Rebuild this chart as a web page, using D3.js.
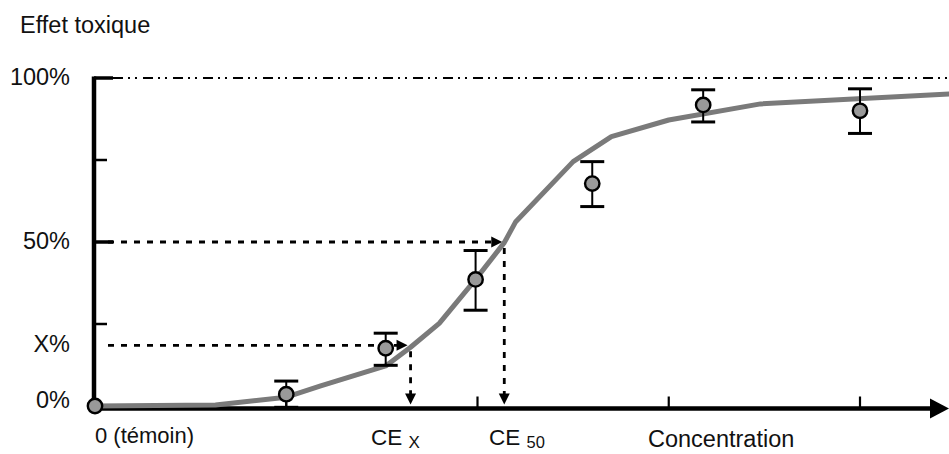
<!DOCTYPE html>
<html>
<head>
<meta charset="utf-8">
<script src="https://cdn.jsdelivr.net/npm/d3@7/dist/d3.min.js"></script>
<style>
  html, body { margin: 0; padding: 0; background: #fff; }
  svg { display: block; }
  text { font-family: "Liberation Sans", Arial, Helvetica, sans-serif; fill: #111; }
</style>
</head>
<body>
<svg id="chart" width="949" height="454"></svg>
<script>
// ---- data ----
const concentrations = [0, 1.0, 1.52, 1.99, 2.60, 3.18, 4.0];
const effects        = [0, 3.6, 17.6, 38.6, 67.8, 91.8, 90.0];
const errHigh        = [0, 4.0, 4.6, 8.8, 6.7, 4.6, 6.7];
const errLow         = [0, 4.0, 5.2, 9.4, 7.0, 5.2, 6.9];

const curveX = [0, 0.63, 1.0, 1.18, 1.52, 1.65, 1.80, 1.99, 2.14, 2.20, 2.50, 2.70, 3.00, 3.48, 4.47];
const curveY = [0, 0.3, 2.7, 6.1, 12.2, 17.9, 25.2, 38.6, 49.8, 56.2, 74.5, 82.1, 87.2, 92.1, 95.1];

const xTicks = [1, 2, 3, 4];
const yMinorTicks = [25, 75];
const yMajorTicks = [50, 100];
const yLabels = [
  {v: 100, t: "100%"},
  {v: 50,  t: "50%"},
  {v: 18.5, t: "X%"},
  {v: 0,   t: "0%"}
];
const xEffect = 18.5;   // X%
const ceX = 1.65;       // CE x
const ce50 = 2.14;      // CE 50

// ---- scales ----
const svg = d3.select("#chart");
const x = d3.scaleLinear().domain([0, 4]).range([95, 860]);
const y = d3.scaleLinear().domain([0, 100]).range([406, 78]);
const axisY = 408.5;
const axisX = 94;

// ---- y axis ----
svg.append("line").attr("x1", axisX).attr("x2", axisX).attr("y1", y(100) - 1.5).attr("y2", axisY + 2)
  .attr("stroke", "#000").attr("stroke-width", 4.5);
svg.selectAll(".ymaj").data(yMajorTicks).enter().append("line")
  .attr("x1", axisX).attr("x2", axisX + 19).attr("y1", d => y(d)).attr("y2", d => y(d))
  .attr("stroke", "#000").attr("stroke-width", 3.5);
svg.selectAll(".ymin").data(yMinorTicks).enter().append("line")
  .attr("x1", axisX).attr("x2", axisX + 13).attr("y1", d => y(d)).attr("y2", d => y(d))
  .attr("stroke", "#000").attr("stroke-width", 2.5);

// 100% dash-dot-dot line
svg.append("line").attr("x1", axisX + 19).attr("x2", 949).attr("y1", y(100)).attr("y2", y(100))
  .attr("stroke", "#000").attr("stroke-width", 2)
  .attr("stroke-dasharray", "10,5,2,5,2,6");

// ---- x axis ----
svg.append("line").attr("x1", axisX - 2).attr("x2", 935).attr("y1", axisY).attr("y2", axisY)
  .attr("stroke", "#000").attr("stroke-width", 4.5);
svg.append("path").attr("d", `M930,${axisY - 10} L949,${axisY} L930,${axisY + 10} Z`).attr("fill", "#000");
svg.selectAll(".xt").data(xTicks).enter().append("line")
  .attr("x1", d => x(d)).attr("x2", d => x(d)).attr("y1", axisY).attr("y2", axisY - 12)
  .attr("stroke", "#000").attr("stroke-width", 2.2);

// ---- dotted guide lines with arrowheads ----
function hArrow(v, xEnd) {
  const yy = y(v);
  svg.append("line").attr("x1", axisX + 14).attr("x2", xEnd - 10).attr("y1", yy).attr("y2", yy)
    .attr("stroke", "#000").attr("stroke-width", 2.8).attr("stroke-dasharray", "6,7");
  svg.append("path").attr("d", `M${xEnd - 11},${yy - 5.5} L${xEnd},${yy} L${xEnd - 11},${yy + 5.5} Z`).attr("fill", "#000");
}
function vArrow(c, v) {
  const xx = x(c);
  svg.append("line").attr("x1", xx).attr("x2", xx).attr("y1", y(v) + 6).attr("y2", axisY - 14)
    .attr("stroke", "#000").attr("stroke-width", 2.8).attr("stroke-dasharray", "6,7");
  svg.append("path").attr("d", `M${xx - 5.5},${axisY - 15} L${xx},${axisY - 4} L${xx + 5.5},${axisY - 15} Z`).attr("fill", "#000");
}
hArrow(50, x(ce50) - 2);
vArrow(ce50, 50);
hArrow(xEffect, x(ceX) - 3);
vArrow(ceX, xEffect);

// ---- fitted curve ----
const curvePts = curveX.map((c, i) => [c, curveY[i]]);
svg.append("path").datum(curvePts)
  .attr("d", d3.line().x(d => x(d[0])).y(d => y(d[1])).curve(d3.curveLinear))
  .attr("fill", "none").attr("stroke", "#7a7a7a").attr("stroke-width", 5)
  .attr("stroke-linejoin", "round");

// ---- error bars and points ----
const pts = concentrations.map((c, i) => ({c, v: effects[i], hi: errHigh[i], lo: errLow[i]}));
const eb = svg.selectAll(".eb").data(pts.filter(d => d.hi > 0)).enter().append("g");
eb.append("line").attr("x1", d => x(d.c)).attr("x2", d => x(d.c))
  .attr("y1", d => y(d.v + d.hi)).attr("y2", d => y(d.v - d.lo))
  .attr("stroke", "#000").attr("stroke-width", 2);
eb.append("line").attr("x1", d => x(d.c) - 12).attr("x2", d => x(d.c) + 12)
  .attr("y1", d => y(d.v + d.hi)).attr("y2", d => y(d.v + d.hi))
  .attr("stroke", "#000").attr("stroke-width", 3);
eb.append("line").attr("x1", d => x(d.c) - 12).attr("x2", d => x(d.c) + 12)
  .attr("y1", d => y(d.v - d.lo)).attr("y2", d => y(d.v - d.lo))
  .attr("stroke", "#000").attr("stroke-width", 3);

svg.selectAll(".pt").data(pts).enter().append("circle")
  .attr("cx", d => x(d.c)).attr("cy", d => y(d.v)).attr("r", 7.2)
  .attr("fill", "#999").attr("stroke", "#000").attr("stroke-width", 2.4);

// ---- texts ----
svg.append("text").attr("x", 20).attr("y", 33).attr("font-size", 23.5).text("Effet toxique");
svg.selectAll(".yl").data(yLabels).enter().append("text")
  .attr("x", 70).attr("y", d => y(d.v) + (d.v === 0 ? 2 : 7))
  .attr("text-anchor", "end").attr("font-size", 23.5).text(d => d.t);

svg.append("text").attr("x", x(0)).attr("y", 443).attr("font-size", 22).text("0 (témoin)");

const t1 = svg.append("text").attr("x", 371).attr("y", 445).attr("font-size", 22.5);
t1.append("tspan").text("CE ");
t1.append("tspan").attr("font-size", 17).attr("dy", 3).text("X");

const t2 = svg.append("text").attr("x", 489).attr("y", 445).attr("font-size", 22.5);
t2.append("tspan").text("CE ");
t2.append("tspan").attr("font-size", 16.5).attr("dy", 3).text("50");

svg.append("text").attr("x", 648).attr("y", 447).attr("font-size", 23.5).text("Concentration");
</script>
</body>
</html>
